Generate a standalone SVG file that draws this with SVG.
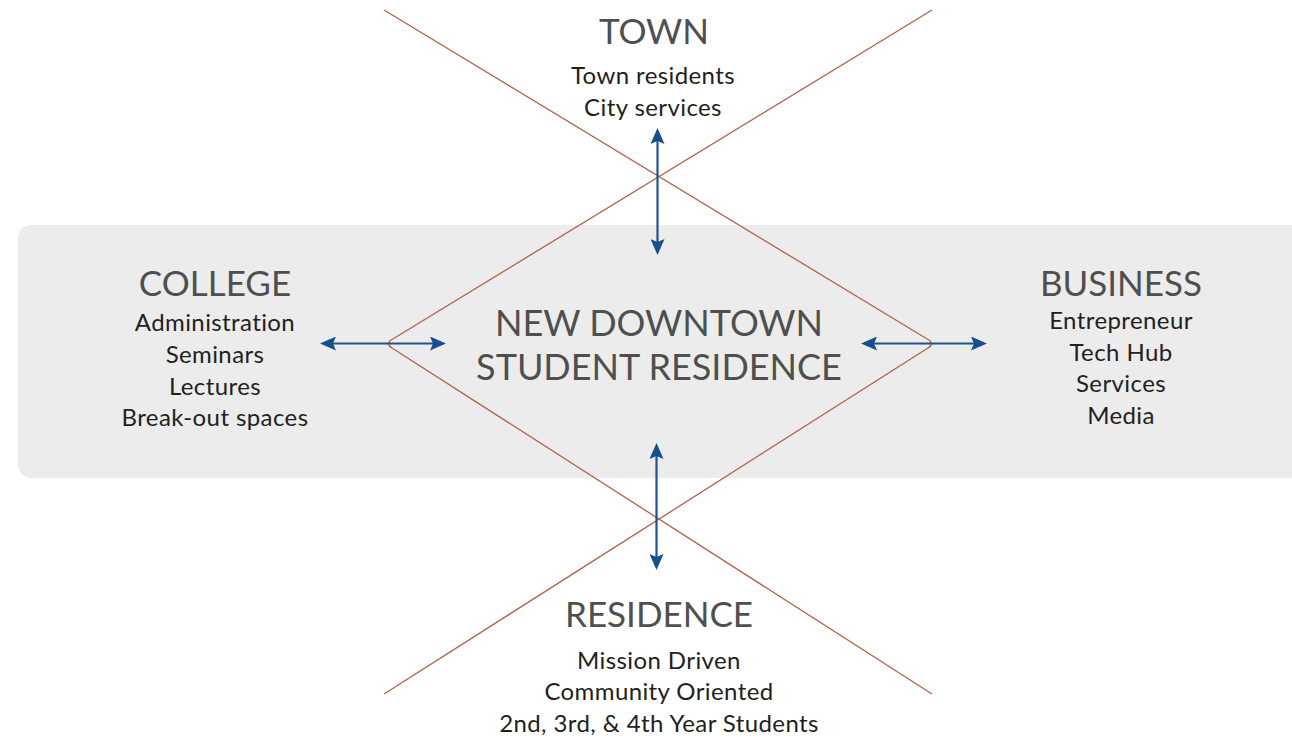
<svg xmlns="http://www.w3.org/2000/svg" width="1292" height="745" viewBox="0 0 1292 745">
<style>
.head{font-family:Lato,"Open Sans","Liberation Sans",sans-serif;font-size:35px;fill:#4f4f4f;text-anchor:middle}
.big{font-size:36px}
.item{font-family:Lato,"Open Sans","Liberation Sans",sans-serif;font-size:24px;letter-spacing:0.4px;fill:#231f20;text-anchor:middle}
.xline{fill:none;stroke:#b5604b;stroke-width:1.3}
.arrow{stroke:#1d5590;stroke-width:2.2;fill:none;marker-start:url(#ah);marker-end:url(#ah)}
</style>
<defs>
<marker id="ah" viewBox="0 0 16 14" refX="13" refY="7" markerWidth="16" markerHeight="14" markerUnits="userSpaceOnUse" orient="auto-start-reverse">
<path d="M0,0 L16,7 L0,14 L3,7 Z" fill="#15508c"/>
</marker>
</defs>
<rect id="band" x="18" y="225" width="1286" height="253" rx="13" fill="#ececec"/>
<g id="connectors">
<path class="xline" d="M384,10 L928,339.5 Q935,343.5 928,348 L384,694"/>
<path class="xline" d="M932,10 L392,339.5 Q385,343.5 392,348 L932,694"/>
<line class="arrow" x1="323" y1="343.5" x2="443" y2="343.5"/>
<line class="arrow" x1="864" y1="343.5" x2="984" y2="343.5"/>
<line class="arrow" x1="657.5" y1="131" x2="657.5" y2="252"/>
<line class="arrow" x1="656.5" y1="446" x2="656.5" y2="567"/>
</g>
<g id="town">
<text class="head" x="654" y="44">TOWN</text>
<text class="item" x="653" y="84">Town residents</text>
<text class="item" x="653" y="116">City services</text>
</g>
<g id="college">
<text class="head" x="215" y="296">COLLEGE</text>
<text class="item" x="215" y="331">Administration</text>
<text class="item" x="215" y="363">Seminars</text>
<text class="item" x="215" y="395">Lectures</text>
<text class="item" x="215" y="426">Break-out spaces</text>
</g>
<g id="business">
<text class="head" x="1121" y="296">BUSINESS</text>
<text class="item" x="1121" y="329">Entrepreneur</text>
<text class="item" x="1121" y="361">Tech Hub</text>
<text class="item" x="1121" y="392">Services</text>
<text class="item" x="1121" y="424">Media</text>
</g>
<g id="center">
<text class="head big" x="659" y="336">NEW DOWNTOWN</text>
<text class="head big" x="659" y="380">STUDENT RESIDENCE</text>
</g>
<g id="residence">
<text class="head" x="659" y="627">RESIDENCE</text>
<text class="item" x="659" y="669">Mission Driven</text>
<text class="item" x="659" y="700">Community Oriented</text>
<text class="item" x="659" y="732">2nd, 3rd, &amp; 4th Year Students</text>
</g>
</svg>
